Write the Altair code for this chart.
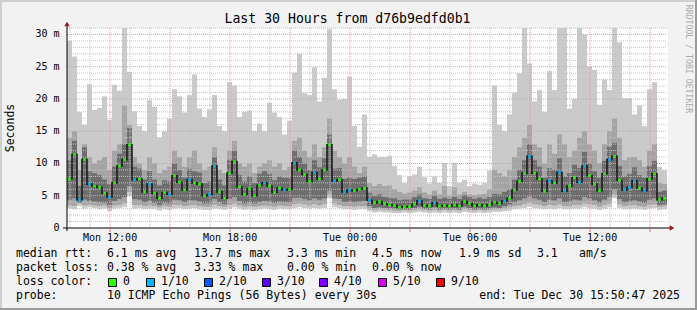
import altair as alt
import pandas as pd

# ---------------- data ----------------
title_text = "Last 30 Hours from d76b9edfd0b1"
y_title = "Seconds"
watermark = "RRDTOOL / TOBI OETIKER"

step_minutes = 15          # one smoke column = 15 minutes
span_minutes = 1800        # 30 hours
start_clock = (9, 50, 47)  # Mon 09:50:47 -> end Tue 15:50:47

median = [7.6, 11.4, 4.4, 10.6, 6.8, 6.5, 6.3, 5.4, 4.8, 7.0,
          9.6, 10.6, 12.9, 7.5, 7.6, 5.6, 6.8, 5.4, 4.6, 5.5,
          5.2, 8.1, 7.1, 5.9, 7.5, 7.0, 6.8, 5.0, 5.2, 9.6,
          5.6, 4.6, 8.5, 10.3, 6.4, 5.2, 6.1, 5.0, 6.6, 7.0,
          6.5, 5.5, 6.2, 5.9, 6.0, 10.1, 9.0, 8.3, 7.2, 8.6,
          7.6, 9.0, 12.9, 7.3, 7.5, 5.6, 5.9, 5.8, 6.0, 6.2,
          4.3, 3.9, 4.1, 3.7, 3.6, 3.5, 3.2, 3.3, 3.3, 3.7,
          4.2, 3.5, 3.4, 3.9, 3.4, 3.5, 3.4, 3.6, 3.4, 4.1,
          3.8, 3.4, 3.6, 3.4, 3.6, 4.0, 3.8, 4.2, 4.6, 5.9,
          7.2, 8.5, 11.1, 8.5, 7.6, 5.7, 7.3, 7.0, 8.6, 5.7,
          6.5, 7.8, 7.1, 9.6, 8.1, 6.8, 5.8, 8.4, 10.6, 11.1,
          7.4, 5.9, 6.3, 7.3, 6.2, 5.8, 7.6, 8.4, 4.4, 4.6]

loss = [0, 0, 1, 0, 1, 0, 0, 0, 1, 0,
        0, 0, 0, 1, 0, 0, 1, 0, 0, 0,
        1, 0, 0, 0, 1, 0, 0, 0, 1, 1,
        0, 0, 0, 0, 0, 0, 0, 0, 0, 1,
        0, 0, 0, 1, 0, 1, 0, 0, 0, 1,
        0, 0, 0, 1, 0, 1, 1, 0, 0, 0,
        1, 0, 0, 0, 0, 0, 0, 0, 0, 0,
        1, 0, 0, 1, 0, 0, 0, 0, 0, 0,
        0, 0, 0, 0, 0, 0, 0, 1, 0, 0,
        0, 0, 1, 0, 0, 0, 1, 0, 1, 1,
        0, 0, 1, 1, 0, 0, 0, 0, 1, 0,
        0, 1, 1, 1, 0, 1, 0, 0, 0, 0]

ping_min = [3.1, 2.9, 3.4, 3.0, 3.2, 3.1, 2.9, 3.0, 2.6, 3.0,
            3.1, 3.2, 5.0, 3.0, 3.1, 2.9, 3.0, 2.9, 2.7, 2.9,
            2.8, 3.0, 3.1, 2.9, 3.0, 3.1, 2.9, 2.8, 2.8, 3.0,
            2.9, 2.8, 3.0, 3.2, 3.0, 2.8, 2.9, 2.8, 2.9, 3.0,
            2.9, 2.8, 3.0, 2.9, 2.9, 3.1, 3.2, 3.1, 3.0, 3.1,
            3.0, 3.1, 4.6, 3.2, 3.1, 2.9, 2.9, 2.8, 2.9, 2.9,
            2.6, 2.4, 2.5, 2.4, 2.4, 2.3, 2.3, 2.4, 2.3, 2.4,
            2.5, 2.4, 2.3, 2.4, 2.3, 2.4, 2.3, 2.4, 2.3, 2.5,
            2.4, 2.3, 2.4, 2.3, 2.4, 2.5, 2.5, 2.6, 2.7, 2.9,
            3.0, 3.1, 3.3, 3.1, 3.0, 2.9, 3.0, 2.9, 3.1, 2.9,
            2.9, 3.0, 3.0, 3.2, 3.1, 3.0, 2.8, 3.0, 3.2, 4.6,
            3.1, 2.9, 2.9, 3.0, 2.9, 2.8, 3.0, 3.1, 2.8, 2.9]

band2_lo = [3.5, 3.4, 3.8, 3.5, 3.6, 3.5, 3.4, 3.5, 3.1, 3.5,
            3.6, 3.8, 5.6, 3.6, 3.6, 3.4, 3.5, 3.4, 3.2, 3.4,
            3.3, 3.6, 3.6, 3.4, 3.5, 3.6, 3.4, 3.3, 3.3, 3.6,
            3.4, 3.3, 3.6, 3.8, 3.5, 3.3, 3.4, 3.3, 3.4, 3.5,
            3.4, 3.3, 3.5, 3.4, 3.4, 3.7, 3.8, 3.7, 3.5, 3.7,
            3.5, 3.7, 5.2, 3.8, 3.6, 3.4, 3.4, 3.3, 3.4, 3.4,
            3.0, 2.8, 2.9, 2.8, 2.8, 2.7, 2.7, 2.8, 2.7, 2.8,
            2.9, 2.8, 2.7, 2.8, 2.7, 2.8, 2.7, 2.8, 2.7, 2.9,
            2.8, 2.7, 2.8, 2.7, 2.8, 2.9, 2.9, 3.0, 3.2, 3.4,
            3.5, 3.7, 3.9, 3.7, 3.6, 3.4, 3.6, 3.5, 3.7, 3.4,
            3.4, 3.6, 3.6, 3.8, 3.7, 3.6, 3.3, 3.6, 3.8, 5.2,
            3.7, 3.4, 3.5, 3.6, 3.4, 3.3, 3.6, 3.7, 3.3, 3.4]

band3_lo = [4.4, 4.6, 3.9, 4.4, 4.2, 4.1, 4.0, 3.9, 3.6, 4.2,
            4.5, 4.8, 6.5, 4.5, 4.4, 4.0, 4.2, 3.9, 3.6, 3.9,
            3.8, 4.4, 4.3, 4.0, 4.3, 4.3, 4.1, 3.8, 3.8, 4.5,
            4.0, 3.7, 4.5, 4.8, 4.2, 3.8, 4.0, 3.8, 4.0, 4.2,
            4.1, 3.9, 4.1, 4.0, 4.0, 4.7, 4.7, 4.5, 4.3, 4.6,
            4.4, 4.6, 5.8, 4.6, 4.5, 4.0, 4.1, 4.0, 4.1, 4.2,
            3.4, 3.1, 3.2, 3.1, 3.0, 3.0, 2.9, 2.9, 2.9, 3.1,
            3.3, 3.0, 2.9, 3.2, 2.9, 3.0, 2.9, 3.0, 2.9, 3.3,
            3.1, 2.9, 3.0, 2.9, 3.0, 3.2, 3.1, 3.4, 3.6, 4.0,
            4.3, 4.6, 4.9, 4.6, 4.4, 4.0, 4.4, 4.3, 4.6, 4.0,
            4.1, 4.4, 4.3, 4.8, 4.6, 4.3, 3.9, 4.4, 4.8, 6.0,
            4.5, 4.0, 4.1, 4.3, 4.1, 3.9, 4.4, 4.6, 3.6, 3.7]

band3_hi = [10.5, 13.5, 6.5, 12.5, 8.8, 8.5, 8.2, 7.5, 6.8, 9.5,
            11.5, 13.0, 15.5, 9.5, 9.2, 7.5, 8.8, 7.5, 6.6, 7.4,
            7.2, 10.0, 9.0, 7.8, 9.2, 8.8, 8.6, 7.0, 7.2, 11.0,
            7.5, 6.6, 10.5, 12.0, 8.2, 7.2, 8.0, 7.0, 8.4, 8.8,
            8.4, 7.4, 8.0, 7.8, 7.8, 12.0, 11.0, 10.0, 9.0, 10.5,
            9.4, 10.8, 14.5, 9.2, 9.3, 7.6, 7.8, 7.6, 7.8, 8.0,
            5.5, 5.0, 5.2, 4.8, 4.7, 4.6, 4.3, 4.4, 4.4, 4.8,
            5.2, 4.6, 4.5, 5.0, 4.5, 4.7, 4.5, 4.8, 4.5, 5.1,
            4.8, 4.5, 4.7, 4.5, 4.8, 5.3, 5.2, 5.6, 6.0, 7.5,
            9.0, 10.5, 13.0, 10.5, 9.5, 7.8, 9.3, 9.0, 10.8, 8.0,
            8.5, 9.8, 9.3, 11.8, 10.0, 8.8, 7.8, 10.4, 12.6, 13.2,
            9.6, 8.0, 8.4, 9.4, 8.2, 7.8, 9.6, 10.4, 5.6, 5.8]

band2_hi = [14.0, 15.0, 9.0, 13.0, 11.0, 10.0, 10.5, 11.0, 9.0, 12.0,
            13.0, 19.0, 16.0, 11.0, 10.0, 9.0, 11.0, 10.0, 8.5, 9.0,
            9.5, 12.0, 11.0, 9.5, 11.0, 12.0, 10.0, 9.0, 9.5, 12.5,
            9.0, 8.5, 12.0, 13.5, 10.0, 9.5, 10.0, 8.5, 9.5, 10.0,
            10.5, 9.5, 10.0, 9.0, 9.5, 13.5, 14.0, 12.0, 11.0, 13.0,
            11.0, 12.5, 17.0, 12.0, 11.0, 10.0, 11.0, 9.5, 8.5, 9.5,
            7.0, 6.5, 6.8, 6.5, 6.6, 6.0, 5.6, 5.3, 5.5, 5.8,
            6.3, 5.5, 5.2, 5.8, 5.2, 6.5, 5.0, 6.3, 5.2, 5.6,
            5.2, 5.1, 5.2, 5.3, 6.0, 9.0, 8.5, 8.0, 9.0, 11.0,
            12.5, 14.0, 16.0, 13.0, 12.5, 10.0, 13.0, 11.5, 14.5, 13.0,
            11.0, 12.0, 14.0, 15.0, 13.0, 12.0, 10.0, 13.0, 15.0, 17.0,
            14.0, 10.5, 11.0, 11.0, 10.5, 9.5, 12.0, 13.0, 7.0, 6.8]

ping_max = [29.0, 26.6, 18.0, 16.0, 22.3, 18.3, 18.6, 20.4, 16.8, 22.2,
            21.3, 31.5, 24.2, 18.1, 15.8, 15.0, 19.8, 18.8, 14.0, 15.0,
            16.9, 21.5, 20.4, 17.9, 20.6, 23.8, 18.5, 17.2, 18.4, 20.6,
            15.8, 15.0, 22.6, 22.1, 17.2, 18.0, 18.2, 15.0, 16.2, 15.0,
            19.4, 17.9, 17.2, 14.5, 16.6, 24.1, 27.0, 20.9, 20.6, 24.9,
            19.6, 23.3, 30.8, 21.5, 19.9, 20.0, 23.5, 15.8, 12.6, 17.6,
            11.0, 11.4, 11.0, 11.0, 11.2, 9.6, 8.2, 7.0, 8.0, 8.3,
            9.5, 7.9, 6.9, 8.0, 7.0, 10.1, 6.5, 10.1, 7.0, 7.5,
            6.5, 6.9, 6.7, 7.0, 8.9, 22.1, 16.0, 15.0, 17.6, 21.0,
            24.0, 31.5, 25.5, 19.6, 21.4, 18.0, 24.3, 21.4, 31.5, 31.5,
            18.5, 20.0, 31.5, 30.0, 25.0, 24.5, 19.1, 23.0, 21.4, 31.5,
            28.8, 20.1, 20.1, 17.6, 19.0, 15.8, 21.5, 22.6, 9.5, 9.0]

y_ticks = [0, 5, 10, 15, 20, 25, 30]
y_tick_labels = ["0\u00a0\u00a0", "5 m", "10 m", "15 m", "20 m", "25 m", "30 m"]
x_tick_labels = ["Mon 12:00", "Mon 18:00", "Tue 00:00", "Tue 06:00", "Tue 12:00"]

stats_rtt = ["median rtt:", "6.1 ms avg", "13.7 ms max", "3.3 ms min",
             "4.5 ms now", "1.9 ms sd", "3.1", "am/s"]
stats_loss = ["packet loss:", "0.38 % avg", "3.33 % max", "0.00 % min", "0.00 % now"]
loss_title = "loss color:"
loss_keys = [0, 1, 2, 3, 4, 5, 9]
loss_labels = ["0", "1/10", "2/10", "3/10", "4/10", "5/10", "9/10"]
probe_texts = ["probe:", "10 ICMP Echo Pings (56 Bytes) every 30s",
               "end: Tue Dec 30 15:50:47 2025"]

# ---------------- styles / layout ----------------
loss_colors = ["#26ff00", "#00b8ff", "#0059ff", "#5e00ff", "#7e00ff", "#dd00ff", "#ff0000"]
MONO = "DejaVu Sans Mono"
W, H = 600, 200
LEFT, TOP = 67, 28
YMAX = 31

n = len(median)
df = pd.DataFrame({
    "t0": [i * step_minutes for i in range(n)],
    "t1": [(i + 1) * step_minutes for i in range(n)],
    "tc": [i * step_minutes + step_minutes / 2 for i in range(n)],
    "mn": ping_min, "lo2": band2_lo, "lo3": band3_lo,
    "med": median, "hi3": band3_hi, "hi2": band2_hi, "mx": ping_max,
    "loss": loss,
})

xs = alt.Scale(domain=[0, span_minutes], nice=False, zero=False)
ys = alt.Scale(domain=[0, YMAX], nice=False, zero=True)

# hour grid positions (minutes from the start of the graph)
first_hour_offset = (60 - start_clock[1]) - start_clock[2] / 60.0
hours = []
for k in range(30):
    m = first_hour_offset + 60 * k
    hod = (start_clock[0] + 1 + k) % 24
    hours.append((m, hod))
minor_x = pd.DataFrame({"m": [m for m, h in hours if h % 3 != 0]})
major_x = pd.DataFrame({"m": [m for m, h in hours if h % 3 == 0]})
label_x = pd.DataFrame({"m": [m for m, h in hours if h % 6 == 0],
                        "lab": x_tick_labels})
minor_y = pd.DataFrame({"v": [v for v in range(1, YMAX + 1) if v % 5 != 0]})
major_y = pd.DataFrame({"v": [v for v in range(5, YMAX + 1, 5)]})
ylab = pd.DataFrame({"v": y_ticks, "lab": y_tick_labels})

one = pd.DataFrame({"k": [0]})


def band(lo, hi, color):
    return alt.Chart(df).mark_rect(color=color, clip=True, strokeWidth=0).encode(
        x=alt.X("t0:Q", scale=xs, axis=None), x2="t1:Q",
        y=alt.Y(f"{lo}:Q", scale=ys, axis=None), y2=f"{hi}:Q")


def text(s, px, py, size=11.5, align="left", color="#000000", angle=0, font=MONO):
    kw = dict(text=s, align=align, baseline="middle", font=font, fontSize=size, color=color)
    if angle:
        kw["angle"] = angle
    return alt.Chart(one).mark_text(**kw).encode(
        x=alt.value(px - LEFT), y=alt.value(py - TOP))


layers = [
    band("mn", "mx", "#cacaca"),
    band("lo2", "hi2", "#a4a4a4"),
    band("lo3", "hi3", "#6e6e6e"),
    # grid (drawn over the smoke, as rrdtool does)
    alt.Chart(minor_y).mark_rule(color="#c4c4c4", strokeDash=[1, 1], strokeWidth=1).encode(
        y=alt.Y("v:Q", scale=ys, axis=None), x=alt.value(0), x2=alt.value(W)),
    alt.Chart(minor_x).mark_rule(color="#c4c4c4", strokeDash=[1, 1], strokeWidth=1).encode(
        x=alt.X("m:Q", scale=xs, axis=None), y=alt.value(0), y2=alt.value(H)),
    alt.Chart(major_y).mark_rule(color="#ec9a9a", strokeDash=[1, 1], strokeWidth=1).encode(
        y=alt.Y("v:Q", scale=ys, axis=None), x=alt.value(0), x2=alt.value(W)),
    alt.Chart(major_x).mark_rule(color="#ec9a9a", strokeDash=[1, 1], strokeWidth=1).encode(
        x=alt.X("m:Q", scale=xs, axis=None), y=alt.value(0), y2=alt.value(H)),
    # median
    alt.Chart(df).mark_line(interpolate="step", color="#1c1c1c", strokeWidth=1.6).encode(
        x=alt.X("tc:Q", scale=xs, axis=None), y=alt.Y("med:Q", scale=ys, axis=None)),
    alt.Chart(df).mark_square(size=7, opacity=1).encode(
        x=alt.X("tc:Q", scale=xs, axis=None), y=alt.Y("med:Q", scale=ys, axis=None),
        color=alt.Color("loss:O", scale=alt.Scale(domain=loss_keys, range=loss_colors),
                        legend=None)),
    # axes
    alt.Chart(one).mark_rule(color="#000000", strokeWidth=1).encode(
        x=alt.value(-4), x2=alt.value(W + 5), y=alt.value(H)),
    alt.Chart(one).mark_rule(color="#000000", strokeWidth=1).encode(
        x=alt.value(0), y=alt.value(-4), y2=alt.value(H + 3)),
    alt.Chart(major_x).mark_rule(color="#e07070", strokeWidth=1).encode(
        x=alt.X("m:Q", scale=xs, axis=None), y=alt.value(H + 1), y2=alt.value(H + 4)),
    alt.Chart(one).mark_point(shape="triangle-up", filled=True, size=28, color="#a01414",
                              opacity=1).encode(x=alt.value(0), y=alt.value(-4)),
    alt.Chart(one).mark_point(shape="triangle-right", filled=True, size=28, color="#a01414",
                              opacity=1).encode(x=alt.value(W + 5), y=alt.value(H)),
    # tick labels
    alt.Chart(ylab).mark_text(align="right", baseline="middle", font=MONO, fontSize=10,
                              color="#000000").encode(
        y=alt.Y("v:Q", scale=ys, axis=None), x=alt.value(59.5 - LEFT), text="lab:N"),
    alt.Chart(label_x).mark_text(align="center", baseline="middle", font=MONO, fontSize=10,
                                 color="#000000").encode(
        x=alt.X("m:Q", scale=xs, axis=None), y=alt.value(238 - TOP), text="lab:N"),
    # titles
    text(title_text, 347.5, 19, size=13.2, align="center"),
    text(y_title, 10.5, 128, size=11.5, align="center", angle=270),
    text(watermark, 687.5, 59, size=8.2, align="center", color="#aaaaaa", angle=90),
    # frame
    alt.Chart(one).mark_rule(color="#cfcfcf", strokeWidth=2).encode(
        x=alt.value(-LEFT), x2=alt.value(697 - LEFT), y=alt.value(1 - TOP)),
    alt.Chart(one).mark_rule(color="#cfcfcf", strokeWidth=2).encode(
        x=alt.value(1 - LEFT), y=alt.value(-TOP), y2=alt.value(310 - TOP)),
    alt.Chart(one).mark_rule(color="#9a9a9a", strokeWidth=2).encode(
        x=alt.value(-LEFT), x2=alt.value(697 - LEFT), y=alt.value(309 - TOP)),
    alt.Chart(one).mark_rule(color="#9a9a9a", strokeWidth=2).encode(
        x=alt.value(696 - LEFT), y=alt.value(-TOP), y2=alt.value(310 - TOP)),
]

# legend rows
rtt_x = [16, 107, 194, 287, 372, 459, 537, 579]
for s, px in zip(stats_rtt, rtt_x):
    layers.append(text(s, px, 254))
loss_x = [16, 107, 194, 287, 372]
for s, px in zip(stats_loss, loss_x):
    layers.append(text(s, px, 268))
layers.append(text(loss_title, 16, 282))
sq_x = [108, 146, 204, 262, 319, 378, 436]
for lab, col, px in zip(loss_labels, loss_colors, sq_x):
    layers.append(alt.Chart(one).mark_rect(color=col, stroke="#000000", strokeWidth=1).encode(
        x=alt.value(px + 0.5 - LEFT), x2=alt.value(px + 8.5 - LEFT),
        y=alt.value(278.5 - TOP), y2=alt.value(286.5 - TOP)))
    layers.append(text(lab, px + 15, 282))
layers.append(text(probe_texts[0], 16, 296))
layers.append(text(probe_texts[1], 107, 296))
layers.append(text(probe_texts[2], 680, 296, align="right"))

chart = alt.layer(*layers).properties(
    width=W, height=H,
    padding={"left": LEFT, "top": TOP, "right": 697 - LEFT - W, "bottom": 310 - TOP - H},
    autosize=alt.AutoSizeParams(type="none"),
).configure(background="#f2f2f2").configure_view(fill="#ffffff", stroke="transparent")

chart.save("out.html", embed_options={"renderer": "svg", "actions": False})
